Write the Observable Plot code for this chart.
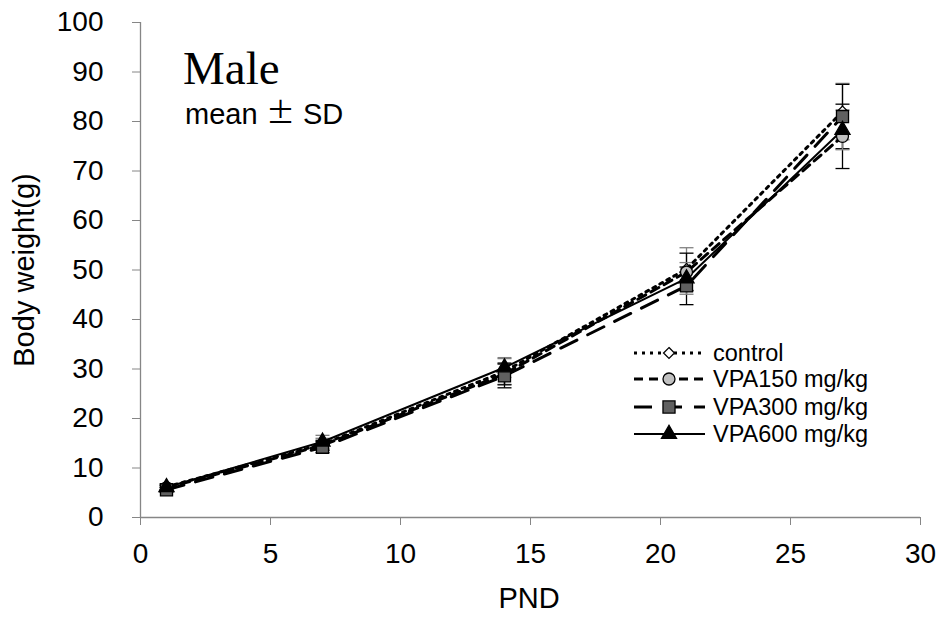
<!DOCTYPE html>
<html><head><meta charset="utf-8">
<script src="https://cdn.jsdelivr.net/npm/d3@7"></script>
<script src="https://cdn.jsdelivr.net/npm/@observablehq/plot@0.6"></script>
<style>body{margin:0;background:#fff} #chart{width:941px;height:617px}</style>
</head><body><div id="chart"></div>
<script>
// ---- data ----
const pnd = [1, 7, 14, 21, 27];
const seriesNames = ["control", "VPA150 mg/kg", "VPA300 mg/kg", "VPA600 mg/kg"];
const controlMean = [6.2, 14.8, 29.5, 50.2, 82.0];
const controlSD   = [0.6, 1.2, 2.6, 4.3, 5.7];
const vpa150Mean  = [6.0, 14.6, 29.0, 49.6, 77.0];
const vpa150SD    = [0.5, 1.0, 2.2, 3.8, 6.5];
const vpa300Mean  = [5.6, 14.2, 28.6, 46.8, 81.0];
const vpa300SD    = [0.5, 1.1, 2.4, 3.8, 6.5];
const vpa600Mean  = [6.1, 15.3, 30.3, 48.3, 78.3];
const vpa600SD    = [0.6, 1.3, 2.0, 3.2, 4.0];
const xTicks = [0, 5, 10, 15, 20, 25, 30];
const yTicks = [0, 10, 20, 30, 40, 50, 60, 70, 80, 90, 100];
const titleText = "Male";
const subtitleParts = ["mean", "\u00B1", "SD"];
const xLabel = "PND";
const yLabel = "Body weight(g)";

const means = [controlMean, vpa150Mean, vpa300Mean, vpa600Mean];
const sds = [controlSD, vpa150SD, vpa300SD, vpa600SD];

// ---- styles ----
const styles = [
  {dash: "3 5", width: 3, symbol: d3.symbolDiamond2, fill: "#ffffff", r: 4.9, err: "#808080"},
  {dash: "9 6", width: 3, symbol: d3.symbolCircle, fill: "#c0c0c0", r: 6, err: "#000000"},
  {dash: "18 12", width: 3, symbol: d3.symbolSquare, fill: "#606060", r: 6.8, err: "#000000"},
  {dash: null, width: 2, symbol: d3.symbolTriangle, fill: "#000000", r: 5.6, err: "#808080"}
];
const capSymbol = {draw(ctx) { ctx.moveTo(-7, 0); ctx.lineTo(7, 0); }};

const rowsBySeries = seriesNames.map((name, i) =>
  pnd.map((x, j) => ({series: name, x, y: means[i][j], sd: sds[i][j]})));

const errMarks = [], lineMarks = [], dotMarks = [];
rowsBySeries.forEach((rows, i) => {
  const s = styles[i];
  errMarks.push(Plot.link(rows, {x1: "x", x2: "x", y1: d => d.y - d.sd, y2: d => d.y + d.sd, stroke: s.err, strokeWidth: 1.3}));
  errMarks.push(Plot.dot(rows, {x: "x", y: d => d.y + d.sd, symbol: capSymbol, r: 3, stroke: s.err, strokeWidth: 1.3, fill: "none"}));
  errMarks.push(Plot.dot(rows, {x: "x", y: d => d.y - d.sd, symbol: capSymbol, r: 3, stroke: s.err, strokeWidth: 1.3, fill: "none"}));
  lineMarks.push(Plot.line(rows, {x: "x", y: "y", stroke: "black", strokeWidth: s.width, strokeDasharray: s.dash || undefined}));
  dotMarks.push(Plot.dot(rows, {x: "x", y: "y", symbol: s.symbol, r: s.r, fill: s.fill, stroke: "black", strokeWidth: 1.3}));
});

const font = "'Liberation Sans', Arial, sans-serif";
const svg = Plot.plot({
  width: 941, height: 617,
  marginLeft: 140, marginRight: 21, marginTop: 22, marginBottom: 100,
  x: {domain: [0, 30]},
  y: {domain: [0, 100]},
  style: {fontFamily: font, fontSize: "28px", background: "white", color: "black", overflow: "visible"},
  marks: [
    Plot.axisY({ticks: yTicks, tickSize: 8, tickPadding: 29, stroke: "#868686", fill: "black", fontSize: 28, label: null, tickFormat: d => d}),
    Plot.axisX({ticks: xTicks, tickSize: 8, tickPadding: 18, stroke: "#868686", fill: "black", fontSize: 28, label: null, tickFormat: d => d}),
    Plot.ruleX([0], {stroke: "#868686", strokeWidth: 1.3}),
    Plot.ruleY([0], {stroke: "#868686", strokeWidth: 1.3}),
    ...errMarks, ...lineMarks, ...dotMarks
  ]
});
document.getElementById("chart").appendChild(svg);

// ---- overlay: titles, axis labels, legend ----
const g = d3.select(svg).append("g").attr("text-anchor", "start");
g.append("text").attr("x", 183).attr("y", 84).attr("font-family", "'Liberation Serif', 'Times New Roman', serif")
  .attr("font-size", 47).attr("fill", "black").text(titleText);
const sub = g.append("g").attr("font-size", 29).attr("fill", "black");
sub.append("text").attr("x", 185).attr("y", 124).attr("font-family", font).text(subtitleParts[0]);
sub.append("text").attr("x", 266).attr("y", 124).attr("font-family", "'Noto Sans CJK JP', sans-serif").text(subtitleParts[1]);
sub.append("text").attr("x", 303).attr("y", 124).attr("font-family", font).text(subtitleParts[2]);

g.append("text").attr("x", 529).attr("y", 608).attr("text-anchor", "middle").attr("font-family", font)
  .attr("font-size", 29).attr("fill", "black").text(xLabel);
g.append("text").attr("transform", "translate(34,270) rotate(-90)").attr("text-anchor", "middle").attr("font-family", font)
  .attr("font-size", 29).attr("fill", "black").text(yLabel);

const legendY = [353, 379, 407, 434];
seriesNames.forEach((name, i) => {
  const s = styles[i];
  const y = legendY[i];
  const row = g.append("g");
  row.append("line").attr("x1", 634).attr("x2", 705).attr("y1", y).attr("y2", y)
    .attr("stroke", "black").attr("stroke-width", s.width).attr("stroke-dasharray", s.dash);
  row.append("path").attr("transform", `translate(669,${y})`)
    .attr("d", d3.symbol(s.symbol, Math.PI * s.r * s.r)())
    .attr("fill", s.fill).attr("stroke", "black").attr("stroke-width", 1.3);
  row.append("text").attr("x", 713).attr("y", y + 8).attr("font-family", font)
    .attr("font-size", 23.5).attr("fill", "black").text(name);
});
</script>
</body></html>
